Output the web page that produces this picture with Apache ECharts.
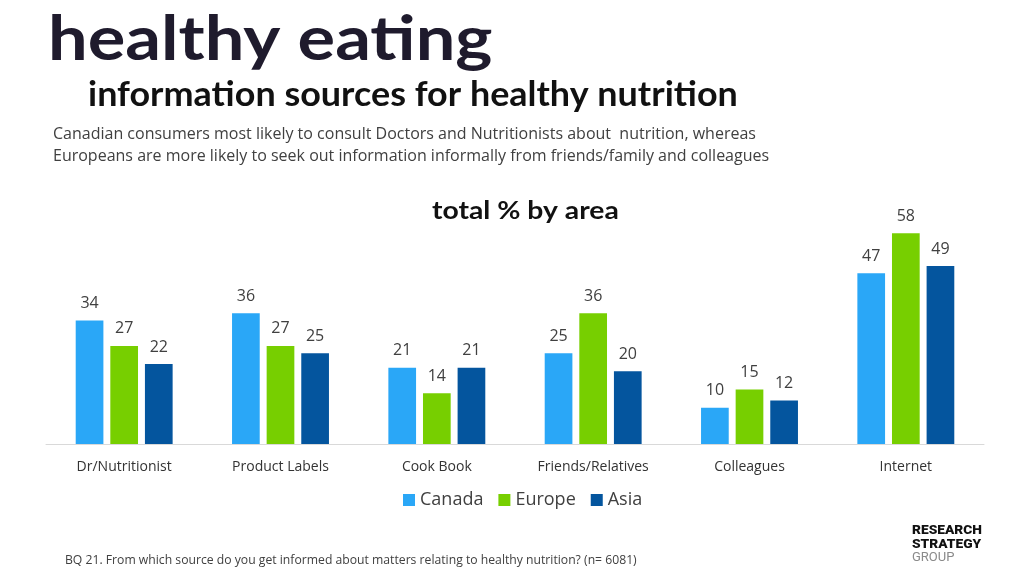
<!DOCTYPE html>
<html><head><meta charset="utf-8">
<script src="https://cdn.jsdelivr.net/npm/echarts@6/dist/echarts.min.js"></script>
<style>html,body{margin:0;padding:0;background:#fff}#c{width:1024px;height:576px}</style>
</head><body><div id="c"></div>
<script>
const categories = ['Dr/Nutritionist','Product Labels','Cook Book','Friends/Relatives','Colleagues','Internet'];
const canada = [34,36,21,25,10,47];
const europe = [27,27,14,36,15,58];
const asia = [22,25,21,20,12,49];
const seriesNames = ['Canada','Europe','Asia'];
const colors = ['#2AA7F7','#77CF00','#04559E'];

const chart = echarts.init(document.getElementById('c'));
const lbl = {show:true,position:'top',distance:9,color:'#404040',fontSize:16,fontFamily:'Open Sans'};
chart.setOption({
  backgroundColor:'#fff',
  animation:false,
  grid:{left:46,right:40,top:226,bottom:132},
  xAxis:{type:'category',data:categories,
    axisLine:{lineStyle:{color:'#d9d9d9',width:1}},axisTick:{show:false},
    axisLabel:{color:'#333',fontSize:14,fontFamily:'Open Sans',margin:16}},
  yAxis:{type:'value',min:0,max:60,show:false,splitLine:{show:false}},
  legend:{top:486,left:398,itemWidth:12,itemHeight:12,itemGap:15,icon:'rect',
    textStyle:{fontSize:18,color:'#404040',fontFamily:'Open Sans'},data:seriesNames},
  series:[
    {name:seriesNames[0],type:'bar',data:canada,itemStyle:{color:colors[0]},label:lbl,barGap:'25%',barCategoryGap:'38%'},
    {name:seriesNames[1],type:'bar',data:europe,itemStyle:{color:colors[1]},label:lbl},
    {name:seriesNames[2],type:'bar',data:asia,itemStyle:{color:colors[2]},label:lbl}
  ],
  graphic:[
    {type:'text',x:48,y:9,scaleX:1.135,style:{text:'healthy eating',fontSize:62,fontWeight:'bold',fill:'#1f1b2d',fontFamily:'Lato'}},
    {type:'text',x:88,y:78,scaleX:1.057,style:{text:'information sources for healthy nutrition',fontSize:34,fontWeight:'bold',fill:'#111',fontFamily:'Lato'}},
    {type:'text',left:53,top:123,style:{text:'Canadian consumers most likely to consult Doctors and Nutritionists about  nutrition, whereas\nEuropeans are more likely to seek out information informally from friends/family and colleagues',fontSize:16,lineHeight:22,fill:'#404040',fontFamily:'Open Sans'}},
    {type:'text',x:432,y:199,scaleX:1.18,style:{text:'total % by area',fontSize:24,fontWeight:'bold',fill:'#111',fontFamily:'Lato'}},
    {type:'text',left:65,top:555,style:{text:'BQ 21. From which source do you get informed about matters relating to healthy nutrition? (n= 6081)',fontSize:12.2,fill:'#404040',fontFamily:'Open Sans'}},
    {type:'text',x:912,y:524,scaleX:1.1,style:{text:'RESEARCH\nSTRATEGY',fontSize:12.5,lineHeight:14,fontWeight:900,fill:'#111',fontFamily:'Roboto'}},
    {type:'text',x:912,y:551,style:{text:'GROUP',fontSize:13,fill:'#8a8a8a',fontFamily:'Roboto'}}
  ]
});
</script></body></html>
